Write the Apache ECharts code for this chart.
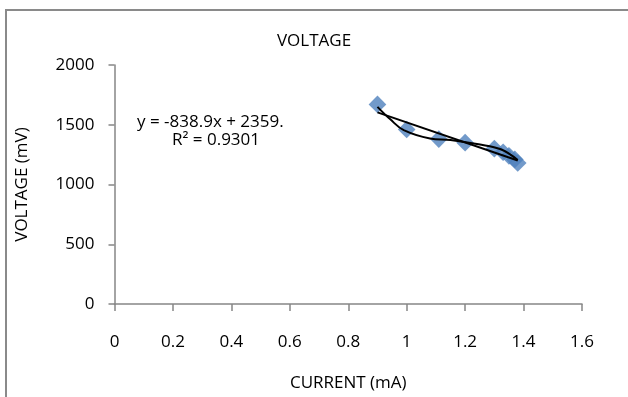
<!DOCTYPE html>
<html>
<head>
<meta charset="utf-8">
<script src="https://cdn.jsdelivr.net/npm/echarts@6/dist/echarts.min.js"></script>
<style>
  html, body { margin: 0; padding: 0; background: #fff; }
  #chart { width: 628px; height: 397px; }
</style>
</head>
<body>
<div id="chart"></div>
<script>
// measured points (mA, mV)
var current = [0.9, 1.0, 1.11, 1.2, 1.3, 1.33, 1.35, 1.37, 1.38];
var voltage = [1670, 1460, 1380, 1350, 1300, 1270, 1240, 1210, 1180];

// linear trendline endpoints
var linX = [0.9, 1.38];
var linY = [1604, 1201];

// polynomial trendline
var polyX = [0.9, 0.944, 0.99, 1.08, 1.15, 1.246, 1.322, 1.38];
var polyY = [1650, 1545, 1455, 1385, 1372, 1336, 1295, 1205];

var eqLine1 = 'y = -838.9x + 2359.';
var eqLine2 = 'R² = 0.9301';

var font = '"Open Sans", sans-serif';
var fs = 17;
var axisGray = '#868686';

function pairs(xs, ys) {
    return xs.map(function (x, i) { return [x, ys[i]]; });
}

var chart = echarts.init(document.getElementById('chart'));

var option = {
    animation: false,
    title: {
        text: 'VOLTAGE',
        left: 'center',
        top: 28,
        textStyle: { fontFamily: font, fontSize: fs, fontWeight: 'normal', color: '#000' }
    },
    grid: { left: 114.5, right: 46, top: 65, bottom: 91 },
    xAxis: {
        type: 'value',
        min: 0,
        max: 1.6,
        interval: 0.2,
        name: 'CURRENT (mA)',
        nameLocation: 'middle',
        nameGap: 71,
        nameTextStyle: { fontFamily: font, fontSize: fs, color: '#000' },
        axisLine: { lineStyle: { color: axisGray, width: 1.5 } },
        axisTick: { length: 7, lineStyle: { color: axisGray, width: 1.5 } },
        axisLabel: {
            margin: 30,
            fontFamily: font, fontSize: fs, color: '#000',
            formatter: function (v) { return String(Math.round(v * 10) / 10); }
        },
        splitLine: { show: false }
    },
    yAxis: {
        type: 'value',
        min: 0,
        max: 2000,
        interval: 500,
        name: 'VOLTAGE (mV)',
        nameLocation: 'middle',
        nameGap: 84,
        nameTextStyle: { fontFamily: font, fontSize: fs, color: '#000' },
        axisLine: { show: true, lineStyle: { color: axisGray, width: 1.5 } },
        axisTick: { show: true, length: 6, lineStyle: { color: axisGray, width: 1.5 } },
        axisLabel: {
            margin: 20, fontFamily: font, fontSize: fs, color: '#000',
            formatter: function (v) { return String(v); }
        },
        splitLine: { show: false }
    },
    graphic: [
        {
            type: 'rect',
            shape: { x: 6, y: 10, width: 700, height: 500 },
            style: { fill: 'none', stroke: '#8a8a8a', lineWidth: 2 },
            silent: true
        },
        {
            type: 'text',
            left: 137,
            top: 114,
            style: { text: eqLine1, font: fs + 'px ' + font, fill: '#000' }
        },
        {
            type: 'text',
            left: 172,
            top: 132,
            style: { text: eqLine2, font: fs + 'px ' + font, fill: '#000' }
        }
    ],
    series: [
        {
            type: 'scatter',
            data: pairs(current, voltage),
            symbol: 'rect',
            symbolSize: 12.5,
            symbolRotate: 45,
            itemStyle: { color: '#4F81BD' },
            z: 2
        },
        {
            type: 'line',
            data: pairs(linX, linY),
            showSymbol: false,
            lineStyle: { color: '#000', width: 2 },
            z: 3
        },
        {
            type: 'line',
            data: pairs(polyX, polyY),
            smooth: 0.4,
            showSymbol: false,
            lineStyle: { color: '#000', width: 2 },
            z: 3
        }
    ]
};

chart.setOption(option);
</script>
</body>
</html>
